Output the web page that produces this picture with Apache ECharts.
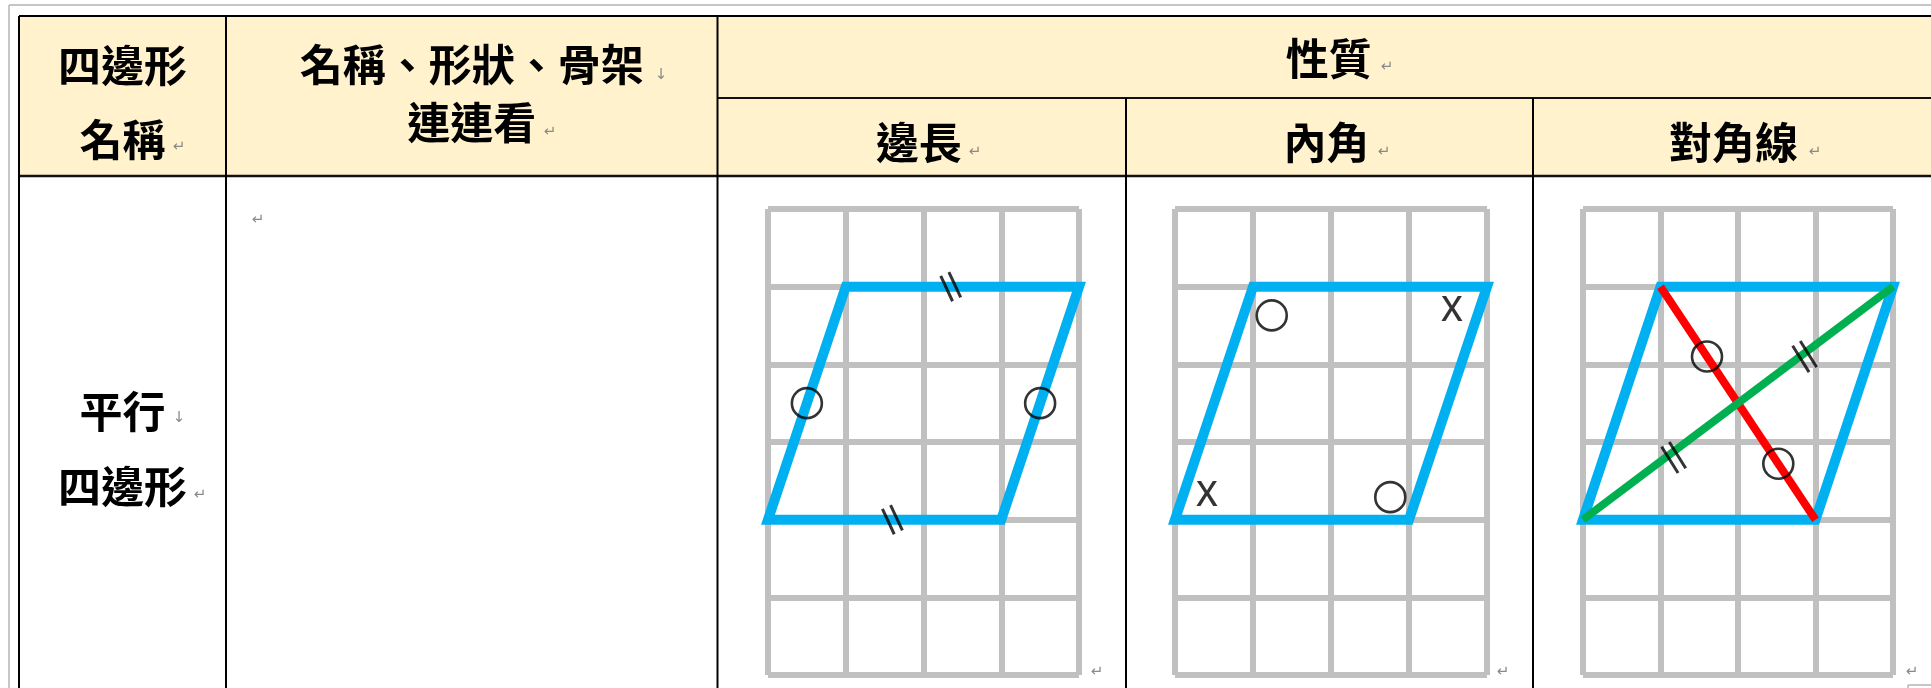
<!DOCTYPE html>
<html><head><meta charset="utf-8">
<script src="https://cdn.jsdelivr.net/npm/echarts@6/dist/echarts.min.js"></script>
<style>html,body{margin:0;padding:0;background:#fff;overflow:hidden}#c{width:1931px;height:688px}</style>
</head><body><div id="c"></div>
<script>
// ---------------- data ----------------
const headerName = ['四邊形', '名稱'];
const headerMatch = ['名稱、形狀、骨架', '連連看'];
const headerProp = ['性質'];
const propColumns = ['邊長', '內角', '對角線'];
const rowName = ['平行', '四邊形'];
const gridCols = 4;
const gridRows = 6;
const parallelogram = [[0, 4], [1, 1], [4, 1], [3, 4]];
const diagonalA = [[1, 1], [3, 4]];
const diagonalB = [[0, 4], [4, 1]];
const sideCircleMarks = [[0.5, 2.5], [3.5, 2.5]];
const sideTickMarks = [[2.35, 1], [1.6, 4]];
const angleCircleMarks = [[1.24, 1.37], [2.76, 3.71]];
const angleCrossMarks = [[3.55, 1.31], [0.41, 3.70]];
const diagCircleMarks = [[1.6, 1.9], [2.52, 3.28]];
const diagTickMarks = [[2.86, 1.9], [1.17, 3.2]];

// ---------------- layout ----------------
const colX = [19, 226, 717.5, 1126, 1533];
const RIGHT = 1931, BOTTOM = 688;
const yTop = 16, ySplit = 98, yHead = 176;
const gridBoxes = [{ left: 768, width: 311 }, { left: 1175, width: 312 }, { left: 1583, width: 310 }];
const gridTop = 209, gridH = 466;
const HFONT = 'bold 43px "Noto Sans CJK TC"';
const MARKFONT = '15px "DejaVu Sans"';
const MARKCOL = '#8a8a8a';
const GRAY = '#c0c0c0';

const chart = echarts.init(document.getElementById('c'), null, { renderer: 'canvas' });

const g = [];
function line(x1, y1, x2, y2, stroke, w, z) {
  g.push({ type: 'line', z: z || 1, shape: { x1, y1, x2, y2 }, style: { stroke, lineWidth: w } });
}
function text(t, x, y, font, fill, align) {
  g.push({ type: 'text', z: 5, style: { text: t, x, y, font, fill, align: align || 'center', verticalAlign: 'middle' } });
}
// page frame (light gray)
line(9, 5, RIGHT, 5, '#c6c6c6', 2);
line(9, 5, 9, BOTTOM, '#c6c6c6', 2);
line(1908, 685, RIGHT, 685, '#c6c6c6', 2);
line(1908, 685, 1908, BOTTOM, '#c6c6c6', 2);
// header background
g.push({ type: 'rect', z: 0, shape: { x: colX[0], y: yTop, width: RIGHT - colX[0], height: yHead - yTop }, style: { fill: '#FFF2CC' } });
// table lines
line(colX[0], yTop, RIGHT, yTop, '#000', 2, 2);
line(colX[0], yHead, RIGHT, yHead, '#111', 2.5, 2);
line(colX[2], ySplit, RIGHT, ySplit, '#111', 2, 2);
line(colX[0], yTop, colX[0], BOTTOM, '#000', 2, 2);
line(colX[1], yTop, colX[1], BOTTOM, '#000', 2, 2);
line(colX[2], yTop, colX[2], BOTTOM, '#000', 2, 2);
line(colX[3], ySplit, colX[3], BOTTOM, '#000', 2, 2);
line(colX[4], ySplit, colX[4], BOTTOM, '#000', 2, 2);

// header texts
const c1 = (colX[0] + colX[1]) / 2, c2 = (colX[1] + colX[2]) / 2;
text(headerName[0], c1, 66, HFONT, '#000');
text(headerName[1], c1, 140, HFONT, '#000');
text('↵', 179, 147, MARKFONT, MARKCOL);
text(headerMatch[0], c2, 65, HFONT, '#000');
text('↓', 661, 75, MARKFONT, MARKCOL);
text(headerMatch[1], c2, 123, HFONT, '#000');
text('↵', 550, 132, MARKFONT, MARKCOL);
text(headerProp[0], (colX[2] + 1940) / 2, 59, HFONT, '#000');
text('↵', 1387, 67, MARKFONT, MARKCOL);
const propRight = [colX[3], colX[4], 1940];
const propMarks = [975, 1384, 1815];
propColumns.forEach((t, i) => {
  const left = [colX[2], colX[3], colX[4]][i];
  text(t, (left + propRight[i]) / 2 - 3, 143, HFONT, '#000');
  text('↵', propMarks[i], 152, MARKFONT, MARKCOL);
});
// body texts
text(rowName[0], c1, 412, HFONT, '#000');
text('↓', 179, 418, MARKFONT, MARKCOL);
text(rowName[1], c1, 487, HFONT, '#000');
text('↵', 200, 495, MARKFONT, MARKCOL);
text('↵', 258, 220, MARKFONT, MARKCOL);
[1097, 1503, 1912].forEach(x => text('↵', x, 672, MARKFONT, MARKCOL));

// ---------------- grids ----------------
const grids = [], xAxes = [], yAxes = [];
gridBoxes.forEach((b, i) => {
  grids.push({ left: b.left, top: gridTop, width: b.width, height: gridH, containLabel: false });
  const common = {
    gridIndex: i, type: 'value', min: 0, interval: 1,
    axisLine: { show: false }, axisTick: { show: false }, axisLabel: { show: false },
    splitLine: { show: true, showMinLine: true, showMaxLine: true, lineStyle: { color: GRAY, width: 6 } }
  };
  xAxes.push(Object.assign({}, common, { max: gridCols }));
  yAxes.push(Object.assign({}, common, { max: gridRows, inverse: true }));
});

const series = [];
function polygonSeries(i) {
  return {
    type: 'custom', coordinateSystem: 'cartesian2d', xAxisIndex: i, yAxisIndex: i,
    data: [parallelogram[0]], clip: false, z: 3, silent: true,
    renderItem: (params, api) => ({
      type: 'polygon',
      shape: { points: parallelogram.map(p => api.coord(p)) },
      style: { fill: 'none', stroke: '#00b0f0', lineWidth: 10, lineJoin: 'miter' }
    })
  };
}
function lineSeries(i, data, color, w, z) {
  return { type: 'line', xAxisIndex: i, yAxisIndex: i, data, symbol: 'none', clip: false, z, silent: true,
    lineStyle: { color, width: w, cap: 'butt' } };
}
function circleSeries(i, data) {
  return { type: 'scatter', xAxisIndex: i, yAxisIndex: i, data, symbol: 'circle', symbolSize: 30, clip: false, z: 8, silent: true,
    itemStyle: { color: 'rgba(0,0,0,0)', borderColor: '#000', borderWidth: 2.6 } };
}
const TICK = 'path://M0,0L3,0L3,28L0,28Z M9,0L12,0L12,28L9,28Z';
function tickSeries(i, data, rot, len) {
  return { type: 'scatter', xAxisIndex: i, yAxisIndex: i, data, symbol: TICK, symbolSize: [12, len], symbolRotate: rot,
    clip: false, z: 8, silent: true, itemStyle: { color: '#000' } };
}
function crossSeries(i, data) {
  return { type: 'scatter', xAxisIndex: i, yAxisIndex: i, data, symbol: 'circle', symbolSize: 1, clip: false, z: 8, silent: true,
    itemStyle: { color: 'rgba(0,0,0,0)' },
    label: { show: true, position: 'inside', formatter: 'X', fontSize: 35, fontWeight: 500, fontFamily: 'Noto Sans', color: '#000' } };
}
// grid 0: side lengths
series.push(polygonSeries(0), circleSeries(0, sideCircleMarks), tickSeries(0, sideTickMarks, 25, 28));
// grid 1: interior angles
series.push(polygonSeries(1), circleSeries(1, angleCircleMarks), crossSeries(1, angleCrossMarks));
// grid 2: diagonals
series.push(polygonSeries(2), lineSeries(2, diagonalA, '#ff0000', 8, 4), lineSeries(2, diagonalB, '#00b050', 8, 5),
  circleSeries(2, diagCircleMarks), tickSeries(2, diagTickMarks, 32, 31));

chart.setOption({
  animation: false,
  backgroundColor: '#fff',
  grid: grids, xAxis: xAxes, yAxis: yAxes,
  series,
  graphic: { elements: g }
});
</script></body></html>
